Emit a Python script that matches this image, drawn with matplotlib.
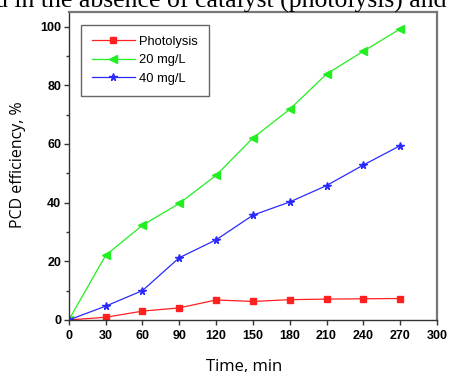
import matplotlib.pyplot as plt
from matplotlib.ticker import MultipleLocator

# PCD efficiency (%) vs irradiation time
time_min = [0, 30, 60, 90, 120, 150, 180, 210, 240, 270]
photolysis = [0, 0.9, 3.0, 4.1, 6.8, 6.3, 6.9, 7.1, 7.2, 7.3]
dose_20 = [0, 22.0, 32.3, 39.7, 49.3, 62.0, 71.8, 83.8, 91.6, 99.2]
dose_40 = [0, 4.7, 10.0, 21.2, 27.3, 35.7, 40.2, 45.8, 52.8, 59.4]

fig = plt.figure(figsize=(4.5, 3.72), dpi=100)
ax = fig.add_axes([0.153, 0.140, 0.818, 0.828])

ax.plot(time_min, photolysis, color='#ff2020', lw=0.9, marker='s', ms=4,
        mec='#ff2020', label='Photolysis')
ax.plot(time_min, dose_20, color='#22ee22', lw=0.9, marker='<', ms=5.2,
        mec='#22ee22', label='20 mg/L')
ax.plot(time_min, dose_40, color='#2a2aff', lw=0.9, marker='*', ms=5.5,
        mec='#2a2aff', label='40 mg/L')

ax.set_xlim(0, 300)
ax.set_ylim(0, 105)
ax.xaxis.set_major_locator(MultipleLocator(30))
ax.yaxis.set_major_locator(MultipleLocator(20))
ax.yaxis.set_minor_locator(MultipleLocator(10))
ax.tick_params(which='both', direction='out', length=3.5, width=1, color='#333333',
               top=False, right=False)
ax.tick_params(which='minor', length=2.5)
for lab in ax.get_xticklabels() + ax.get_yticklabels():
    lab.set_family('Liberation Sans')
    lab.set_fontweight('bold')
    lab.set_fontsize(9)
ax.tick_params(axis='x', pad=4)
ax.tick_params(axis='y', pad=2)

for side in ['left', 'bottom']:
    ax.spines[side].set_color('#333333')
    ax.spines[side].set_linewidth(1)
for side in ['top', 'right']:
    ax.spines[side].set_color('#777777')
    ax.spines[side].set_linewidth(1.6)

# axis titles placed on the figure
fig.text(0.542, 0.004, 'Time, min', family='Open Sans', fontsize=12,
         ha='center', va='baseline')
fig.text(0.04, 0.556, 'PCD efficiency, %', family='Open Sans', fontsize=11.5,
         ha='center', va='center', rotation=90)

leg = ax.legend(loc='upper left', bbox_to_anchor=(0.033, 0.958), borderaxespad=0,
                fancybox=False, edgecolor='#666666', framealpha=1,
                handlelength=3.3, borderpad=0.85, labelspacing=0.5,
                handletextpad=0.35, prop={'family': 'Liberation Sans', 'size': 9.3})
leg.get_frame().set_linewidth(1)

# body text line from the page above the figure
fig.text(-0.012, 0.979, 'd in the absence of catalyst (photolysis) and',
         family='Liberation Serif', fontsize=18.5, va='baseline', ha='left')

fig.savefig('out.png', dpi=100)
